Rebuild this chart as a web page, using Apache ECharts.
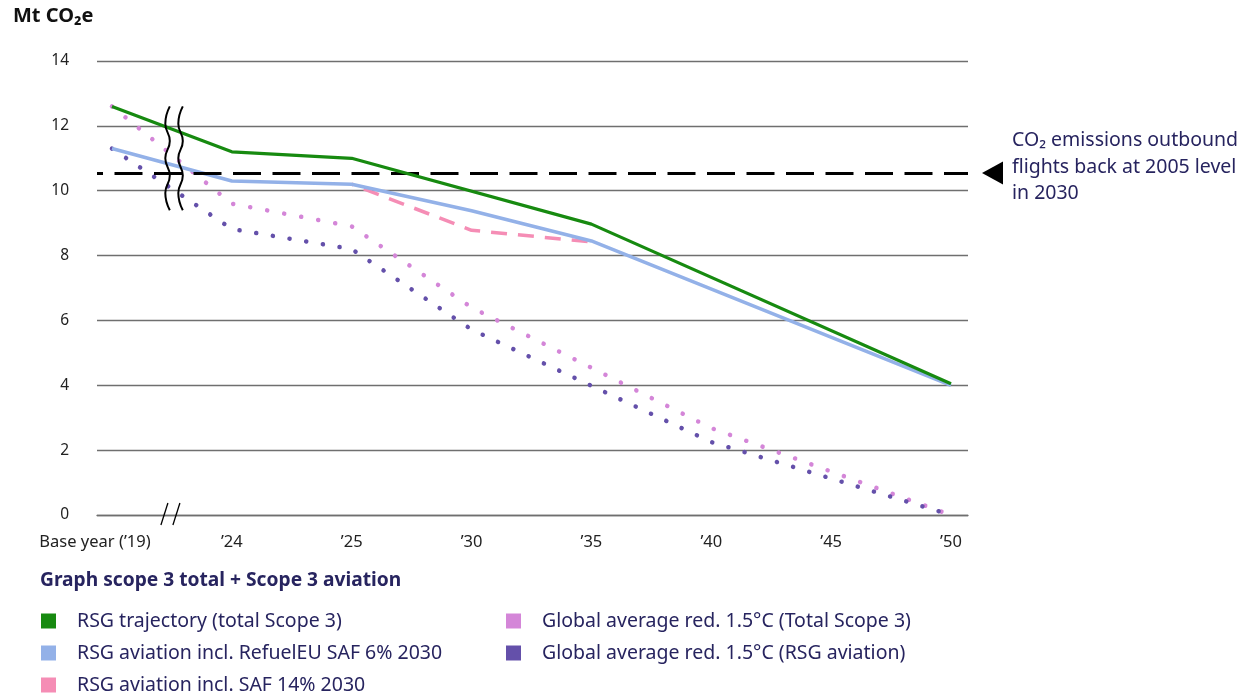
<!DOCTYPE html>
<html><head><meta charset="utf-8">
<script src="https://cdn.jsdelivr.net/npm/echarts@6/dist/echarts.min.js"></script>
<style>html,body{margin:0;padding:0;background:#fff}#c{width:1249px;height:696px}</style>
</head><body><div id="c"></div>
<script>
// ---- data ----
const categories = ["Base year (\u201919)", "\u201924", "\u201925", "\u201930", "\u201935", "\u201940", "\u201945", "\u201950"];
const rsgTotal       = [12.6, 11.2, 11.0, null, 8.97, null, null, 4.05];
const rsgRefuelEU    = [11.3, 10.3, 10.2, 9.38, 8.45, null, null, 4.0];
const rsgSaf14       = [null, null, 10.2, 8.78, 8.42, null, null, null];
const globalTotal    = [12.6, 9.6, 8.9, 6.4, null, 2.68, null, 0];
const globalAviation = [11.3, 8.82, 8.2, 5.72, null, 2.25, null, 0];
const level2005 = 10.55;
const yMin = 0, yMax = 14, yStep = 2;
const seriesNames = [
  "RSG trajectory (total Scope 3)",
  "RSG aviation incl. RefuelEU SAF 6% 2030",
  "RSG aviation incl. SAF 14% 2030",
  "Global average red. 1.5\u00B0C (Total Scope 3)",
  "Global average red. 1.5\u00B0C (RSG aviation)"
];
const annotation = "CO\u2082 emissions outbound\nflights back at 2005 level\nin 2030";

// ---- helpers ----
const toPairs = arr => arr.map((v, i) => v == null ? null : [i, v]).filter(Boolean);
const FONT = '"Noto Sans", "Open Sans", sans-serif';
const NAVY = '#27245f';
const C = {green:'#178a10', blue:'#93b1e8', pink:'#f58db5', lpurple:'#d486d8', dpurple:'#6450aa'};

const chart = echarts.init(document.getElementById('c'), null, {renderer:'canvas'});
chart.setOption({
  animation: false,
  textStyle: {fontFamily: FONT},
  title: [
    {text: 'Mt CO\u2082e', left: 13, top: 6, padding: 0,
     textStyle: {fontSize: 20, fontWeight: 'bold', color: '#111', fontFamily: FONT}},
    {text: 'Graph scope 3 total + Scope 3 aviation', left: 40, top: 571, padding: 0,
     textStyle: {fontSize: 19.2, fontWeight: 'bold', color: NAVY, fontFamily: FONT}}
  ],
  grid: {left: 97, right: 281, top: 61, bottom: 181, containLabel: false},
  xAxis: {
    type: 'value', min: -0.125, max: 7.142,
    axisLine: {show: true, lineStyle: {color: '#6f6f6f', width: 1.3}},
    axisTick: {show: false},
    splitLine: {show: false},
    axisLabel: {
      customValues: categories.map((c, i) => i),
      margin: 19, fontSize: 16.5, color: '#222', fontFamily: FONT,
      formatter: v => { const i = Math.round(v); return i === 0 ? '{b|' + categories[0] + '}' : categories[i]; },
      rich: {b: {fontSize: 16.5, color: '#222', fontFamily: FONT, padding: [0, 34, 0, 0]}}
    }
  },
  yAxis: {
    type: 'value', min: yMin, max: yMax, interval: yStep,
    axisLine: {show: false}, axisTick: {show: false},
    axisLabel: {fontSize: 15.5, color: '#222', margin: 28, fontFamily: FONT},
    splitLine: {lineStyle: {color: '#6f6f6f', width: 1.3}}
  },
  legend: [
    {orient: 'vertical', left: 41, top: 611, padding: 0, itemGap: 12, itemWidth: 15, itemHeight: 15,
     icon: 'rect', selectedMode: false,
     textStyle: {fontSize: 19.5, lineHeight: 20, color: NAVY, padding: [0, 0, 0, 16], fontFamily: FONT},
     data: seriesNames.slice(0, 3)},
    {orient: 'vertical', left: 506, top: 611, padding: 0, itemGap: 12, itemWidth: 15, itemHeight: 15,
     icon: 'rect', selectedMode: false,
     textStyle: {fontSize: 19.5, lineHeight: 20, color: NAVY, padding: [0, 0, 0, 16], fontFamily: FONT},
     data: seriesNames.slice(3)}
  ],
  series: [
    {name: seriesNames[3], type: 'line', data: toPairs(globalTotal), showSymbol: false, color: C.lpurple,
     lineStyle: {color: C.lpurple, width: 4.5, type: [0.1, 17.2], cap: 'round', dashOffset: 0}, z: 2},
    {name: seriesNames[4], type: 'line', data: toPairs(globalAviation), showSymbol: false, color: C.dpurple,
     lineStyle: {color: C.dpurple, width: 4.5, type: [0.1, 16.8], cap: 'round', dashOffset: 0}, z: 2},
    {name: seriesNames[2], type: 'line', data: toPairs(rsgSaf14), showSymbol: false, color: C.pink,
     lineStyle: {color: C.pink, width: 3.5, type: [16, 11], dashOffset: 14}, z: 3},
    {name: seriesNames[1], type: 'line', data: toPairs(rsgRefuelEU), showSymbol: false, color: C.blue,
     lineStyle: {color: C.blue, width: 3.5}, z: 4},
    {name: seriesNames[0], type: 'line', data: toPairs(rsgTotal), showSymbol: false, color: C.green,
     lineStyle: {color: C.green, width: 3.2}, z: 5},
    {name: 'level2005', type: 'line', data: [], z: 6,
     markLine: {silent: true, symbol: 'none', label: {show: false},
       lineStyle: {color: '#000', width: 3, type: [28, 11.5], dashOffset: 22},
       data: [{yAxis: level2005}]}}
  ]
});

// decorations: axis-break marks and the annotation arrow
const p = (x, y) => chart.convertToPixel({gridIndex: 0}, [x, y]);
const topP = p(0.52, 12.6), botP = p(0.52, 9.4), axisP = p(0.5, 0);
const arrowY = p(0, level2005)[1];
function wave(cx) {
  const pts = [], n = 6, h = botP[1] - topP[1];
  for (let k = 0; k <= n; k++) pts.push([cx + (k % 2 === 0 ? 2 : -2.5), topP[1] + k * h / n]);
  return {type: 'polyline', z: 100, shape: {points: pts, smooth: 0.5}, style: {stroke: '#000', lineWidth: 2, fill: null}};
}
chart.setOption({
  graphic: [
    wave(topP[0] - 6.5),
    wave(topP[0] + 6.5),
    {type: 'line', z: 100, shape: {x1: axisP[0] - 11, y1: axisP[1] + 10, x2: axisP[0] - 4, y2: axisP[1] - 12}, style: {stroke: '#000', lineWidth: 1.3}},
    {type: 'line', z: 100, shape: {x1: axisP[0] + 1, y1: axisP[1] + 10, x2: axisP[0] + 8, y2: axisP[1] - 12}, style: {stroke: '#000', lineWidth: 1.3}},
    {type: 'polygon', z: 100, shape: {points: [[982, arrowY], [1003, arrowY - 11.5], [1003, arrowY + 11.5]]}, style: {fill: '#000'}},
    {type: 'text', z: 100, x: 1012, y: arrowY - 45.5,
     style: {text: annotation, fill: NAVY, font: '19.5px ' + FONT, lineHeight: 26.5, textVerticalAlign: 'top'}}
  ]
});
</script></body></html>
